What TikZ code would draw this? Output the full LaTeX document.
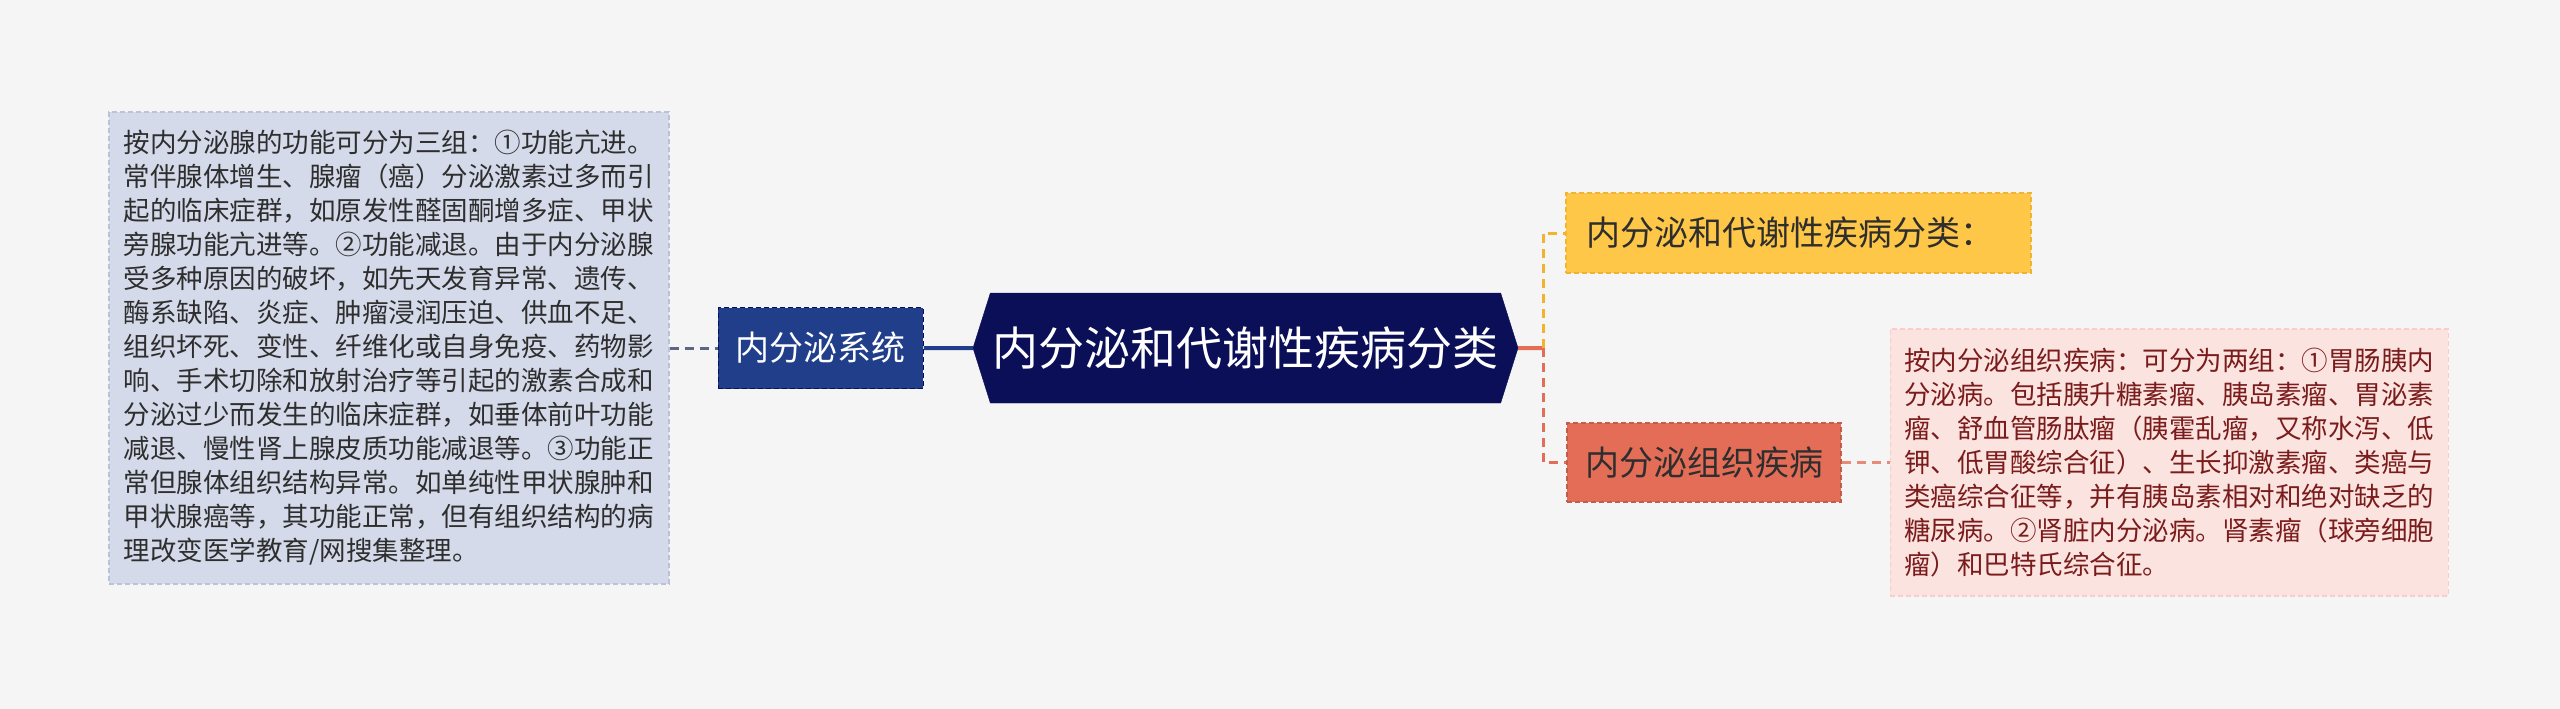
\documentclass[tikz,border=0pt]{standalone}
\usepackage{fontspec}
\setmainfont{Noto Sans CJK SC}
\usetikzlibrary{shapes.symbols, positioning}

\definecolor{bgcol}{HTML}{F5F5F5}
\definecolor{descfill}{HTML}{D4DAE9}
\definecolor{descline}{HTML}{B9C2D9}
\definecolor{syscol}{HTML}{213E8B}
\definecolor{rootcol}{HTML}{0B0F58}
\definecolor{yelcol}{HTML}{FFC747}
\definecolor{yelline}{HTML}{F2B42E}
\definecolor{redcol}{HTML}{E46D57}
\definecolor{pinkfill}{HTML}{FBE3DF}
\definecolor{pinktext}{HTML}{7A1C1C}
\definecolor{darktext}{HTML}{2E2E2E}
\definecolor{greylink}{HTML}{5B6784}

\begin{document}
\begin{tikzpicture}[x=1pt, y=-1pt,
    box/.style={rectangle, draw, dashed, dash pattern=on 5pt off 3pt, line width=1.2pt, inner sep=0pt, align=left},
    note/.style={box, font=\fontsize{26.5}{34}\selectfont},
    topic/.style={box, font=\fontsize{34}{40}\selectfont},
    link/.style={line width=3pt, dash pattern=on 9pt off 6pt}]
    \fill [bgcol] (0,0) rectangle (2560,709);
    \useasboundingbox (0,0) rectangle (2560,709);

    \node (root) [signal, signal to=west and east, signal pointer angle=145, fill=rootcol, draw=rootcol, text=white, minimum width=545pt, minimum height=110pt, inner sep=0pt, font=\fontsize{46}{52}\selectfont] at (1245.5,348) {内分泌和代谢性疾病分类};
    \node (sys) [topic, left=49pt of root, fill=syscol, draw=rootcol, text=white, minimum width=205pt, minimum height=81pt] {内分泌系统};
    \node (desc) [note, left=48pt of sys, fill=descfill, draw=descline, text=darktext, minimum width=560pt, minimum height=472pt] {按内分泌腺的功能可分为三组：①功能亢进。\\常伴腺体增生、腺瘤（癌）分泌激素过多而引\\起的临床症群，如原发性醛固酮增多症、甲状\\旁腺功能亢进等。②功能减退。由于内分泌腺\\受多种原因的破坏，如先天发育异常、遗传、\\酶系缺陷、炎症、肿瘤浸润压迫、供血不足、\\组织坏死、变性、纤维化或自身免疫、药物影\\响、手术切除和放射治疗等引起的激素合成和\\分泌过少而发生的临床症群，如垂体前叶功能\\减退、慢性肾上腺皮质功能减退等。③功能正\\常但腺体组织结构异常。如单纯性甲状腺肿和\\甲状腺癌等，其功能正常，但有组织结构的病\\理改变医学教育/网搜集整理。};

    \node (cls) [topic, fill=yelcol, draw=yelline, text=darktext, minimum width=465pt, minimum height=80pt, text width=425pt] at (1798.5,233) {内分泌和代谢性疾病分类：};
    \node (tissue) [topic, fill=redcol, draw=redcol!85!black, text=darktext, minimum width=274pt, minimum height=79pt] at (1704,462.5) {内分泌组织疾病};
    \node (tdesc) [note, right=48pt of tissue, fill=pinkfill, draw=pinkfill!90!red, text=pinktext, minimum width=558pt, minimum height=267pt] {按内分泌组织疾病：可分为两组：①胃肠胰内\\分泌病。包括胰升糖素瘤、胰岛素瘤、胃泌素\\瘤、舒血管肠肽瘤（胰霍乱瘤，又称水泻、低\\钾、低胃酸综合征）、生长抑激素瘤、类癌与\\类癌综合征等，并有胰岛素相对和绝对缺乏的\\糖尿病。②肾脏内分泌病。肾素瘤（球旁细胞\\瘤）和巴特氏综合征。};

    \coordinate (fork) at (1543,348);
    \draw [link, greylink] (desc) -- (sys);
    \draw [line width=4pt, syscol] (sys) -- (root);
    \draw [line width=4pt, redcol] (root) -- (fork);
    \draw [link, yelline] (fork) |- (cls);
    \draw [link, redcol] (fork) |- (tissue);
    \draw [link, redcol!80!white] (tissue) -- (tdesc);
\end{tikzpicture}
\end{document}
